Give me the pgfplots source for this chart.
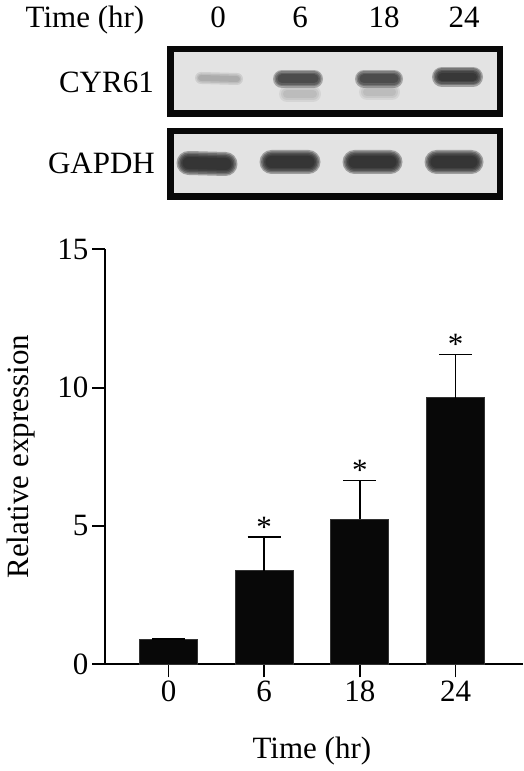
\documentclass[border=0pt]{standalone}
\usepackage{fontspec}
\setmainfont{Liberation Serif}
\usepackage{pgfplots}
\pgfplotsset{compat=1.18}
\definecolor{bg}{gray}{0.89}
\definecolor{barc}{gray}{0.03}
\definecolor{band}{gray}{0.12}
\newcommand{\bigf}{\fontsize{31}{37}\selectfont}
\begin{document}
\begin{tikzpicture}[x=1pt,y=1pt]
% ---------------- Western blot panel ----------------
\begin{axis}[at={(0pt,0pt)}, anchor=south west, scale only axis,
  width=523pt, height=771pt, xmin=0, xmax=523, ymin=0, ymax=771,
  hide axis, clip=false]
  \draw[line width=6.5pt, fill=bg, draw=black!97] (axis cs:170.25,657.25) rectangle (axis cs:499.75,721.75);
  \draw[line width=6.5pt, fill=bg, draw=black!97] (axis cs:170.25,574.25) rectangle (axis cs:499.75,639.75);
  % GAPDH bands, soft edges from stacked translucent strokes
  \pgfplotsinvokeforeach{24,21,18,15,12}{
  \addplot[line width=#1pt, line cap=round, color=band, opacity=0.35, unbounded coords=jump]
    coordinates {(188.5,608) (225.5,607) (nan,nan) (271.5,609) (308.5,609) (nan,nan) (354.5,609) (390.5,609) (nan,nan) (436.5,609) (471.5,609)};
  }
  % CYR61 smears below bands
  \pgfplotsinvokeforeach{16,12,8}{
  \addplot[line width=#1pt, line cap=round, color=band, opacity=0.07, unbounded coords=jump]
    coordinates {(287,677) (313,677) (nan,nan) (367,679) (392,679)};
  }
  % CYR61 lane 0 (faint)
  \pgfplotsinvokeforeach{12,9,6}{
  \addplot[line width=#1pt, line cap=round, color=band, opacity=0.1]
    coordinates {(201,693) (237,692)};
  }
  % CYR61 lanes 6, 18
  \pgfplotsinvokeforeach{18,15,12,9}{
  \addplot[line width=#1pt, line cap=round, color=band, opacity=0.3, unbounded coords=jump]
    coordinates {(282,692) (314,692) (nan,nan) (364,692) (394,692)};
  }
  % CYR61 lane 24
  \pgfplotsinvokeforeach{20,17,14,11,8}{
  \addplot[line width=#1pt, line cap=round, color=band, opacity=0.33]
    coordinates {(442,694) (473,694)};
  }
  % labels
  \node[anchor=base, inner sep=0, font=\bigf] at (axis cs:85,743) {Time (hr)};
  \node[anchor=base, inner sep=0, font=\bigf] at (axis cs:218,743) {0};
  \node[anchor=base, inner sep=0, font=\bigf] at (axis cs:300,743) {6};
  \node[anchor=base, inner sep=0, font=\bigf] at (axis cs:384,743) {18};
  \node[anchor=base, inner sep=0, font=\bigf] at (axis cs:464,743) {24};
  \node[anchor=east, inner sep=0, font=\bigf] at (axis cs:154,689) {CYR61};
  \node[anchor=east, inner sep=0, font=\bigf] at (axis cs:155,608) {GAPDH};
\end{axis}
% ---------------- Bar chart ----------------
\begin{axis}[at={(105pt,106.7pt)}, anchor=south west, scale only axis,
  width=418pt, height=415pt,
  xmin=-0.664, xmax=3.705, ymin=0, ymax=15,
  axis x line=bottom, axis y line=left,
  axis line style={-, line width=2pt, black},
  x axis line style={shorten <=-13pt},
  xtick={0,1,2,3}, xticklabels={0,6,18,24}, ytick={0,5,10,15},
  tick align=outside, major tick length=13pt,
  tick style={line width=1.8pt, black},
  ticklabel style={font=\bigf},
  /pgf/number format/assume math mode=true,
  xlabel={Time (hr)}, ylabel={Relative expression},
  label style={font=\bigf},
  xlabel style={at={(axis description cs:0.495,-0.209)}, anchor=center},
  ylabel style={at={(axis description cs:-0.2,0.5)}, anchor=center},
  clip=false]
  \addplot[ybar, bar width=58pt, bar shift=0pt, fill=barc, draw=black!80, line width=0.8pt,
    error bars/.cd, y dir=plus, y explicit,
    error bar style={line width=1.8pt, black},
    error mark options={rotate=90, mark size=16.5pt, line width=1.8pt, black}]
    table[x=x, y=y, y error=e] {
    x y e
    0 0.90 0
    1 3.38 1.21
    2 5.24 1.40
    3 9.64 1.56
    };
  \addplot[only marks, mark=none, nodes near coords={*},
    nodes near coords style={anchor=base, inner sep=0, font=\bigf, text=black}]
    coordinates {(1,4.59) (2,6.64) (3,11.20)};
\end{axis}
\pgfresetboundingbox
\useasboundingbox (0,0) rectangle (523,771);
\end{tikzpicture}
\end{document}
